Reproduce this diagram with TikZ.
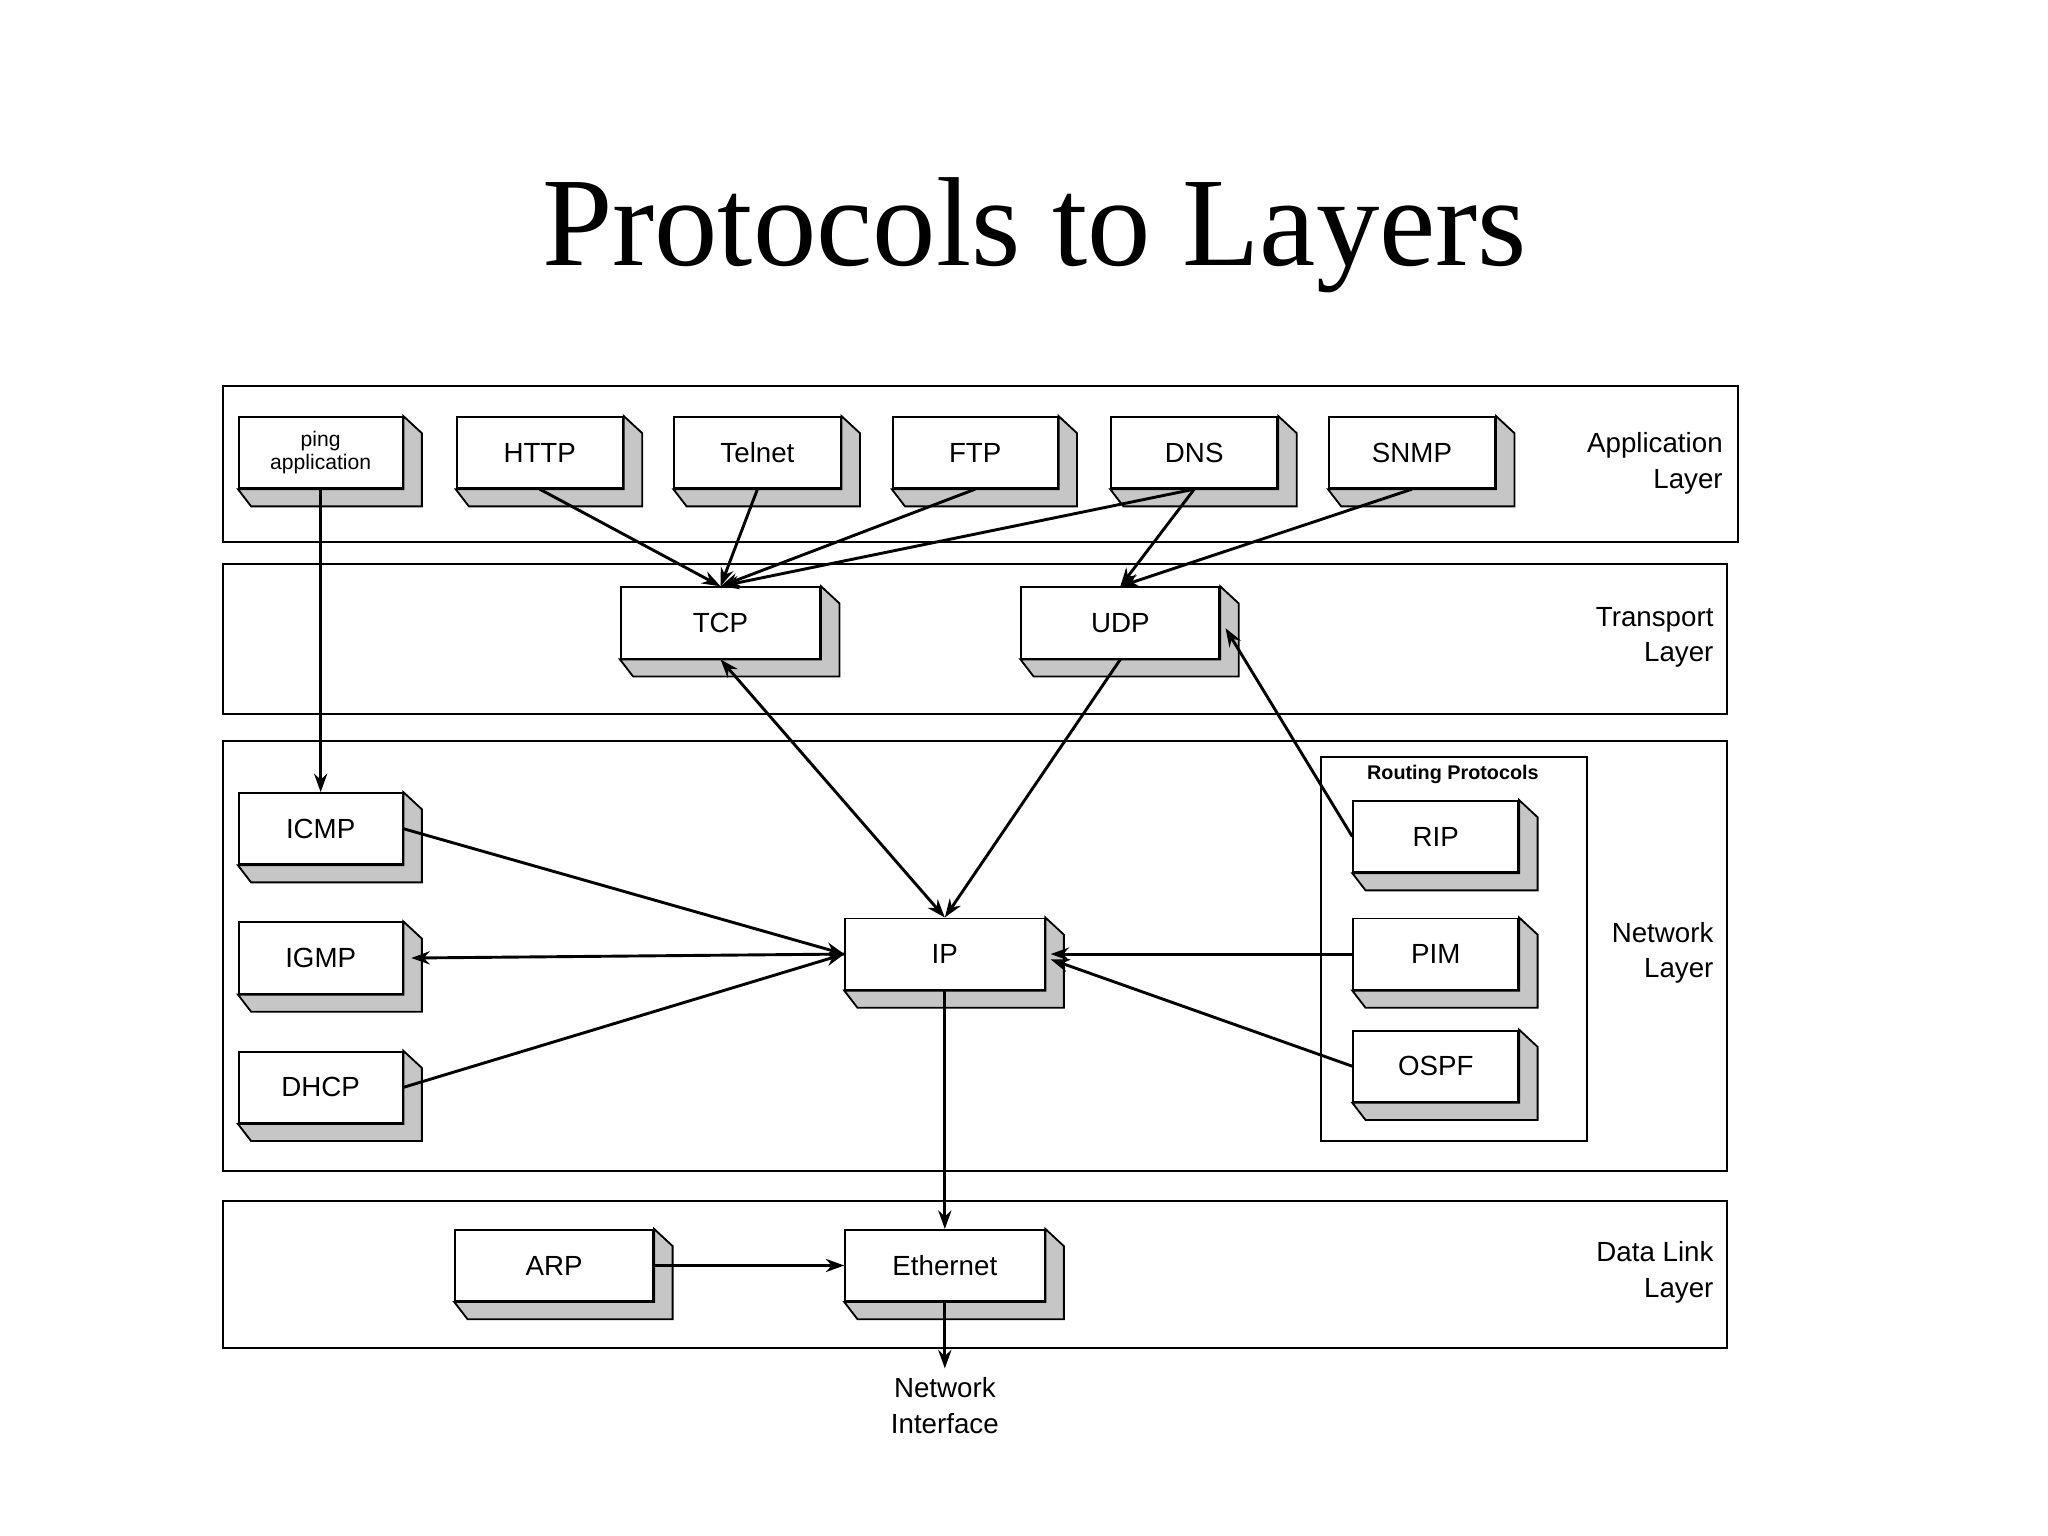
\documentclass[tikz,border=0pt]{standalone}
\usepackage{fontspec}
\setmainfont{Liberation Sans}
\newfontfamily\titlefont{Liberation Serif}
\usetikzlibrary{calc,arrows.meta}
\begin{document}
\begin{tikzpicture}[x=1pt,y=-1pt,
  box/.style={draw,line width=1.4pt,fill=white,minimum height=54pt,inner sep=0pt,font=\fontsize{21}{25}\selectfont},
  layer/.style={draw,line width=1.5pt},
  lbl/.style={align=right,anchor=east,font=\fontsize{21}{27}\selectfont},
  arr/.style={line width=2.2pt,-{Stealth[length=14pt,width=10pt]}},
  darr/.style={line width=2.2pt,{Stealth[length=14pt,width=10pt]}-{Stealth[length=14pt,width=10pt]}}]
\newcommand\bx[5]{%
  \node[box,minimum width=#4pt] (#1) at (#2,#3) {#5};
  \draw[line width=1.4pt,fill=gray!45] (#1.south west) -- ++(10,13) -- ($(#1.south east)+(14,13)$) -- ($(#1.north east)+(14,13)$) -- (#1.north east) -- (#1.south east) -- cycle;}
\useasboundingbox (0,0) rectangle (1552,1164);
\fill[white] (0,0) rectangle (1552,1164);
\node[font=\titlefont\fontsize{96}{100}\selectfont] (title) at (784,178) {Protocols to Layers};
% layers
\node[layer,minimum width=1148pt,minimum height=118pt,anchor=north west] (Lapp) at (168,292) {};
\node[layer,minimum width=1140pt,minimum height=113pt,anchor=north west] (Ltr) at (168,427) {};
\node[layer,minimum width=1140pt,minimum height=326pt,anchor=north west] (Lnet) at (168,561) {};
\node[layer,minimum width=1140pt,minimum height=112pt,anchor=north west] (Ldl) at (168,909) {};
\node[layer,minimum width=202pt,minimum height=291pt,anchor=north west] (Lrt) at (1000,573) {};
\node[font=\bfseries\fontsize{15}{18}\selectfont] (rtl) at (1101,587) {Routing Protocols};
\node[lbl] (la) at (1309,351) {Application\\Layer};
\node[lbl] (lt) at (1302,483) {Transport\\Layer};
\node[lbl] (ln) at (1302,722) {Network\\Layer};
\node[lbl] (ld) at (1302,964) {Data Link\\Layer};
% boxes
\bx{ping}{243}{343}{124}{\fontsize{16}{19}\selectfont\shortstack{ping\\application}}
\bx{http}{409}{343}{126}{HTTP}
\bx{telnet}{574}{343}{126}{Telnet}
\bx{ftp}{739}{343}{125}{FTP}
\bx{dns}{905}{343}{126}{DNS}
\bx{snmp}{1070}{343}{126}{SNMP}
\bx{tcp}{546}{472}{151}{TCP}
\bx{udp}{849}{472}{150}{UDP}
\bx{icmp}{243}{628}{124}{ICMP}
\bx{igmp}{243}{726}{124}{IGMP}
\bx{dhcp}{243}{824}{124}{DHCP}
\bx{ip}{716}{723}{151}{IP}
\bx{rip}{1088}{634}{125}{RIP}
\bx{pim}{1088}{723}{125}{PIM}
\bx{ospf}{1088}{808}{125}{OSPF}
\bx{arp}{420}{959}{150}{ARP}
\bx{eth}{716}{959}{151}{Ethernet}
\node[align=center,font=\fontsize{21}{27}\selectfont] (ni) at (716,1065) {Network\\Interface};
\coordinate (niTop) at (716,1037);
% arrows
\draw[arr] (ping.south) -- (icmp.north);
\draw[arr] (http.south) -- (tcp.north);
\draw[arr] (telnet.south) -- (tcp.north);
\draw[arr] (ftp.south) -- (tcp.north);
\draw[arr] (dns.south) -- (tcp.north);
\draw[arr] (dns.south) -- (udp.north);
\draw[arr] (snmp.south) -- (udp.north);
\draw[darr] (tcp.south) -- (ip.north);
\draw[arr] (udp.south) -- (ip.north);
\draw[arr] (rip.west) -- ($(udp.east)+(4,4)$);
\draw[arr] (icmp.east) -- (ip.west);
\draw[arr] (ip.west) -- ($(igmp.east)+(6,0)$);
\draw[arr] (dhcp.east) -- (ip.west);
\draw[arr] (pim.west) -- ($(ip.east)+(4,0)$);
\draw[arr] (ospf.west) -- ($(ip.east)+(4,4)$);
\draw[arr] (ip.south) -- (eth.north);
\draw[arr] (arp.east) -- (eth.west);
\draw[arr] (eth.south) -- (niTop);
\end{tikzpicture}
\end{document}
